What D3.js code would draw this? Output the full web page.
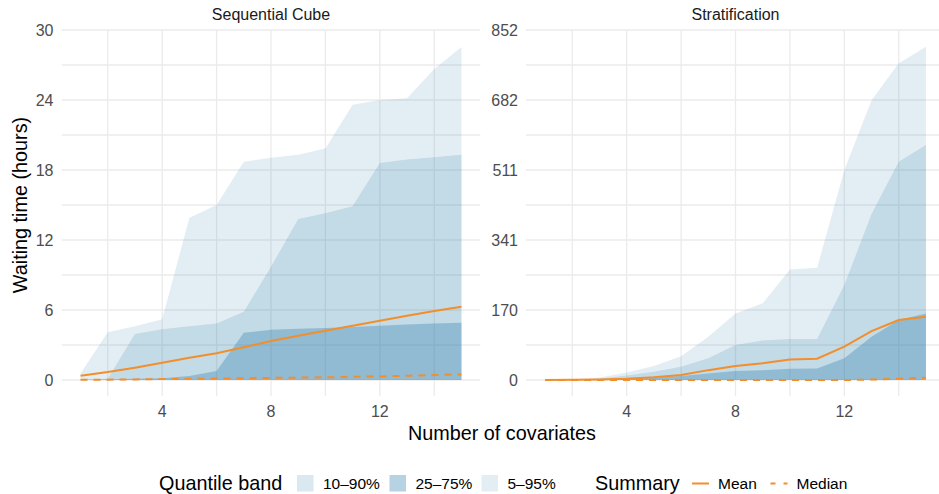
<!DOCTYPE html>
<html>
<head>
<meta charset="utf-8">
<script src="https://cdn.jsdelivr.net/npm/d3@7"></script>
<style>
  body { margin: 0; background: #fff; }
  svg { font-family: "Liberation Sans", Arial, sans-serif; display: block; }
</style>
</head>
<body>
<div id="chart"></div>
<script>
// number of covariates (x)
const covariates = [1, 2, 3, 4, 5, 6, 7, 8, 9, 10, 11, 12, 13, 14, 15];

// Sequential Cube (hours)
const cubeQ95 = [0.55, 4.1, 4.6, 5.2, 13.9, 15.0, 18.7, 19.05, 19.3, 19.85, 23.6, 24.0, 24.15, 26.65, 28.55];
const cubeQ90 = [0.05, 0.1, 3.95, 4.35, 4.6, 4.85, 5.85, 9.7, 13.8, 14.3, 14.9, 18.6, 18.9, 19.1, 19.3];
const cubeQ75 = [0.0, 0.05, 0.1, 0.15, 0.35, 0.77, 4.05, 4.3, 4.4, 4.45, 4.55, 4.65, 4.75, 4.85, 4.9];
const cubeLow = [0, 0, 0, 0, 0, 0, 0, 0, 0, 0, 0, 0, 0, 0, 0];
const cubeMean = [0.37, 0.68, 1.05, 1.47, 1.9, 2.3, 2.8, 3.35, 3.8, 4.22, 4.65, 5.08, 5.5, 5.92, 6.28];
const cubeMedian = [0.02, 0.03, 0.05, 0.08, 0.1, 0.12, 0.15, 0.18, 0.2, 0.23, 0.27, 0.31, 0.36, 0.42, 0.48];

// Stratification (hours)
const stratQ95 = [0, 1.5, 6, 18, 34, 58, 105, 162, 187, 269, 273, 511, 681, 771, 811];
const stratQ90 = [0, 0.5, 3, 11, 20, 32, 53, 85, 96, 100, 100, 231, 404, 531, 572];
const stratQ75 = [0, 0, 1, 3, 5.7, 9.7, 16, 22, 24, 27.5, 28, 53, 105, 146, 162];
const stratLow = [0, 0, 0, 0, 0, 0, 0, 0, 0, 0, 0, 0, 0, 0, 0];
const stratMean = [0, 0.5, 1.5, 3.2, 6.5, 12, 24, 34, 40.5, 50, 52, 81, 119, 146, 154];
const stratMedian = [0, 0, 0, 0, 0, 0, 0, 0, 0, 0, 0, 0, 1, 3, 5.5];

// ticks
const xTicks = [4, 8, 12];
const xMinor = [2, 6, 10, 14];
const cubeTicks = [0, 6, 12, 18, 24, 30];
const cubeTickLabels = ["0", "6", "12", "18", "24", "30"];
const stratTicks = [0, 170.4, 340.8, 511.2, 681.6, 852];
const stratTickLabels = ["0", "170", "341", "511", "682", "852"];

const bandNames = ["10\u201390%", "25\u201375%", "5\u201395%"];
const summaryNames = ["Mean", "Median"];

const bandColor = "#3c84af";
const alpha = {"5\u201395%": 0.14, "10\u201390%": 0.19, "25\u201375%": 0.37};
const orange = "#F28E2B";
const grid = "#ebebeb";

const width = 939, height = 494;
const svg = d3.select('#chart').append('svg')
    .attr('width', width)
    .attr('height', height);

function panel(opts) {
  const x = d3.scaleLinear().domain([0.3, 15.7]).range([opts.left, opts.right]);
  const y = d3.scaleLinear().domain([0, opts.max]).range([380, 30]);
  const top = 30, bottom = 396;

  const g = svg.append('g');
  const clip = 'clip-' + opts.id;
  g.append('clipPath').attr('id', clip)
    .append('rect')
      .attr('x', opts.left).attr('y', 0)
      .attr('width', opts.right - opts.left).attr('height', bottom);

  // grid lines
  const minorY = d3.pairs(opts.ticks).map(p => (p[0] + p[1]) / 2);
  g.append('g').attr('clip-path', `url(#${clip})`)
    .selectAll('line.h')
    .data(opts.ticks.concat(minorY))
    .join('line')
      .attr('x1', opts.left).attr('x2', opts.right)
      .attr('y1', d => y(d)).attr('y2', d => y(d))
      .attr('stroke', grid).attr('stroke-width', 1.3);
  g.append('g')
    .selectAll('line')
    .data(xTicks.concat(xMinor))
    .join('line')
      .attr('x1', d => x(d)).attr('x2', d => x(d))
      .attr('y1', top).attr('y2', bottom)
      .attr('stroke', grid).attr('stroke-width', 1.3);

  // quantile bands
  const bands = [
    {name: "5\u201395%", hi: opts.q95},
    {name: "10\u201390%", hi: opts.q90},
    {name: "25\u201375%", hi: opts.q75}
  ];
  const area = d3.area()
      .x((d, i) => x(covariates[i]))
      .y0((d, i) => y(opts.low[i]))
      .y1(d => y(d));
  g.append('g').attr('clip-path', `url(#${clip})`)
    .selectAll('path')
    .data(bands)
    .join('path')
      .attr('d', d => area(d.hi))
      .attr('fill', bandColor)
      .attr('fill-opacity', d => alpha[d.name]);

  // summary lines
  const line = d3.line()
      .x((d, i) => x(covariates[i]))
      .y(d => y(d));
  g.append('path')
    .attr('d', line(opts.median))
    .attr('fill', 'none')
    .attr('stroke', orange)
    .attr('stroke-width', 2)
    .attr('stroke-dasharray', '7,6');
  g.append('path')
    .attr('d', line(opts.mean))
    .attr('fill', 'none')
    .attr('stroke', orange)
    .attr('stroke-width', 2);

  // axes text
  g.append('g')
    .selectAll('text')
    .data(xTicks)
    .join('text')
      .attr('x', d => x(d))
      .attr('y', 417)
      .attr('text-anchor', 'middle')
      .attr('font-size', '16px')
      .attr('fill', '#4d4d4d')
      .text(d => d);
  g.append('g')
    .selectAll('text')
    .data(opts.ticks)
    .join('text')
      .attr('x', opts.left - 8)
      .attr('y', d => y(d))
      .attr('dy', '0.35em')
      .attr('text-anchor', 'end')
      .attr('font-size', '16px')
      .attr('fill', '#4d4d4d')
      .text((d, i) => opts.labels[i]);

  // strip title
  g.append('text')
    .attr('x', (opts.left + opts.right) / 2)
    .attr('y', 20)
    .attr('text-anchor', 'middle')
    .attr('font-size', '16px')
    .attr('fill', '#1a1a1a')
    .text(opts.title);
}

panel({id: 'cube', title: 'Sequential Cube', left: 61.5, right: 480.5, max: 30,
       ticks: cubeTicks, labels: cubeTickLabels,
       q95: cubeQ95, q90: cubeQ90, q75: cubeQ75, low: cubeLow,
       mean: cubeMean, median: cubeMedian});
panel({id: 'strat', title: 'Stratification', left: 526, right: 945, max: 852,
       ticks: stratTicks, labels: stratTickLabels,
       q95: stratQ95, q90: stratQ90, q75: stratQ75, low: stratLow,
       mean: stratMean, median: stratMedian});

// axis titles
svg.append('text')
  .attr('x', 502)
  .attr('y', 440)
  .attr('text-anchor', 'middle')
  .attr('font-size', '19.8px')
  .attr('fill', '#000')
  .text('Number of covariates');
svg.append('text')
  .attr('transform', 'translate(27,205) rotate(-90)')
  .attr('text-anchor', 'middle')
  .attr('font-size', '19.8px')
  .attr('fill', '#000')
  .text('Waiting time (hours)');

// legend
const lg = svg.append('g');
lg.append('text')
  .attr('x', 159).attr('y', 490)
  .attr('font-size', '19.8px')
  .text('Quantile band');
const keyX = [297, 389.5, 481.5];
lg.selectAll('rect.key')
  .data(bandNames)
  .join('rect')
    .attr('x', (d, i) => keyX[i])
    .attr('y', 475)
    .attr('width', 16.5).attr('height', 16.5)
    .attr('fill', bandColor)
    .attr('fill-opacity', d => alpha[d]);
lg.selectAll('text.band')
  .data(bandNames)
  .join('text')
    .attr('x', (d, i) => keyX[i] + 26)
    .attr('y', 489)
    .attr('font-size', '15.5px')
    .text(d => d);

lg.append('text')
  .attr('x', 595).attr('y', 490)
  .attr('font-size', '19.8px')
  .text('Summary');
const sumX = [692, 770.5];
lg.selectAll('line.sum')
  .data(summaryNames)
  .join('line')
    .attr('x1', (d, i) => sumX[i]).attr('x2', (d, i) => sumX[i] + 17)
    .attr('y1', 483.5).attr('y2', 483.5)
    .attr('stroke', orange)
    .attr('stroke-width', 2)
    .attr('stroke-dasharray', d => d === 'Median' ? '5,8' : null);
lg.selectAll('text.sum')
  .data(summaryNames)
  .join('text')
    .attr('x', (d, i) => sumX[i] + 26)
    .attr('y', 489)
    .attr('font-size', '15.5px')
    .text(d => d);
</script>
</body>
</html>
